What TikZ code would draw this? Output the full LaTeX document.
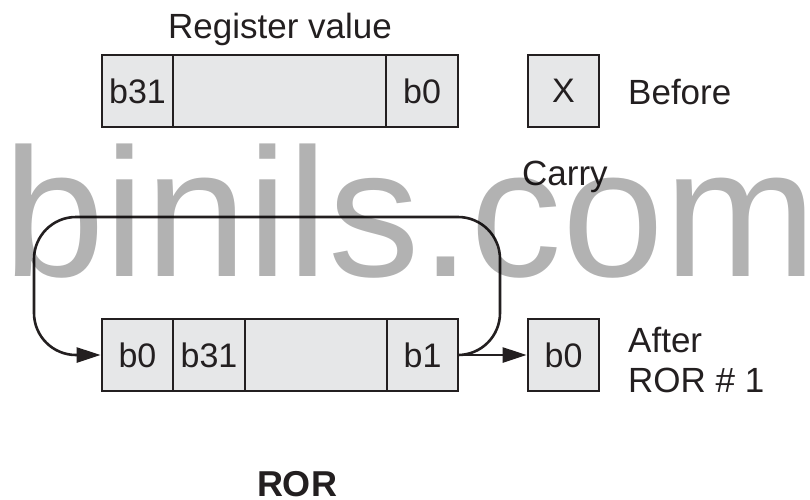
\documentclass[tikz,border=0pt]{standalone}
\usepackage{fontspec}
\setmainfont{Liberation Sans}
\usetikzlibrary{arrows.meta}
\definecolor{cellfill}{HTML}{E6E7E8}
\definecolor{ink}{HTML}{231F20}
\begin{document}
\begin{tikzpicture}[x=1pt,y=-1pt,
  cell/.style={draw=ink, fill=cellfill, line width=2.8pt, minimum height=72pt, inner sep=0pt,
    font=\fontsize{34}{40}\selectfont, text=ink},
  lbl/.style={font=\fontsize{35}{40}\selectfont, text=ink, inner sep=0pt},
  conn/.style={draw=ink, line width=2.6pt, -{Stealth[length=24pt,width=15pt,inset=0pt]}},
  wm/.style={font=\fontsize{183}{200}\selectfont, text=black, text opacity=0.3, inner sep=0pt}]
\useasboundingbox (0,0) rectangle (810,499);
% top register
\node[cell, minimum width=71pt]  (tb31) at (137.5,91) {b31};
\node[cell, minimum width=213pt] (tmid) at (279.5,91) {};
\node[cell, minimum width=72pt]  (tb0)  at (422,91) {b0};
\node[cell, minimum width=71pt]  (tx)   at (563.5,91) {X};
\node[lbl, anchor=base] (title) at (280,38) {Register value};
\node[lbl, anchor=west] (before) at (628,92) {Before};
% bottom register
\node[cell, minimum width=71pt]  (bb0)  at (137.5,355) {b0};
\node[cell, minimum width=72pt]  (bb31) at (209,355) {b31};
\node[cell, minimum width=142pt] (bmid) at (316,355) {};
\node[cell, minimum width=71pt]  (bb1)  at (422.5,355) {b1};
\node[cell, minimum width=71pt]  (ab0)  at (563.5,355) {b0};
\node[lbl, anchor=base west] (carry) at (522,185) {Carry};
\node[lbl, anchor=base west] (after) at (628,352) {After};
\node[lbl, anchor=base west] (ror1) at (628,392) {ROR \# 1};
\node[lbl, anchor=base, font=\fontsize{36}{40}\selectfont\bfseries] (ror) at (297,496) {ROR};
% connectors
\coordinate (tr) at (500,217);
\coordinate (tl) at (34,217);
\draw[conn, rounded corners=42pt] (bb1.east) -| (tr) -- (tl) |- (bb0.west);
\draw[conn] (bb1.east) -- (ab0.west);
% watermark
\node[wm, anchor=base west] (wmark) at (3,276) {binils.com};
\end{tikzpicture}
\end{document}
